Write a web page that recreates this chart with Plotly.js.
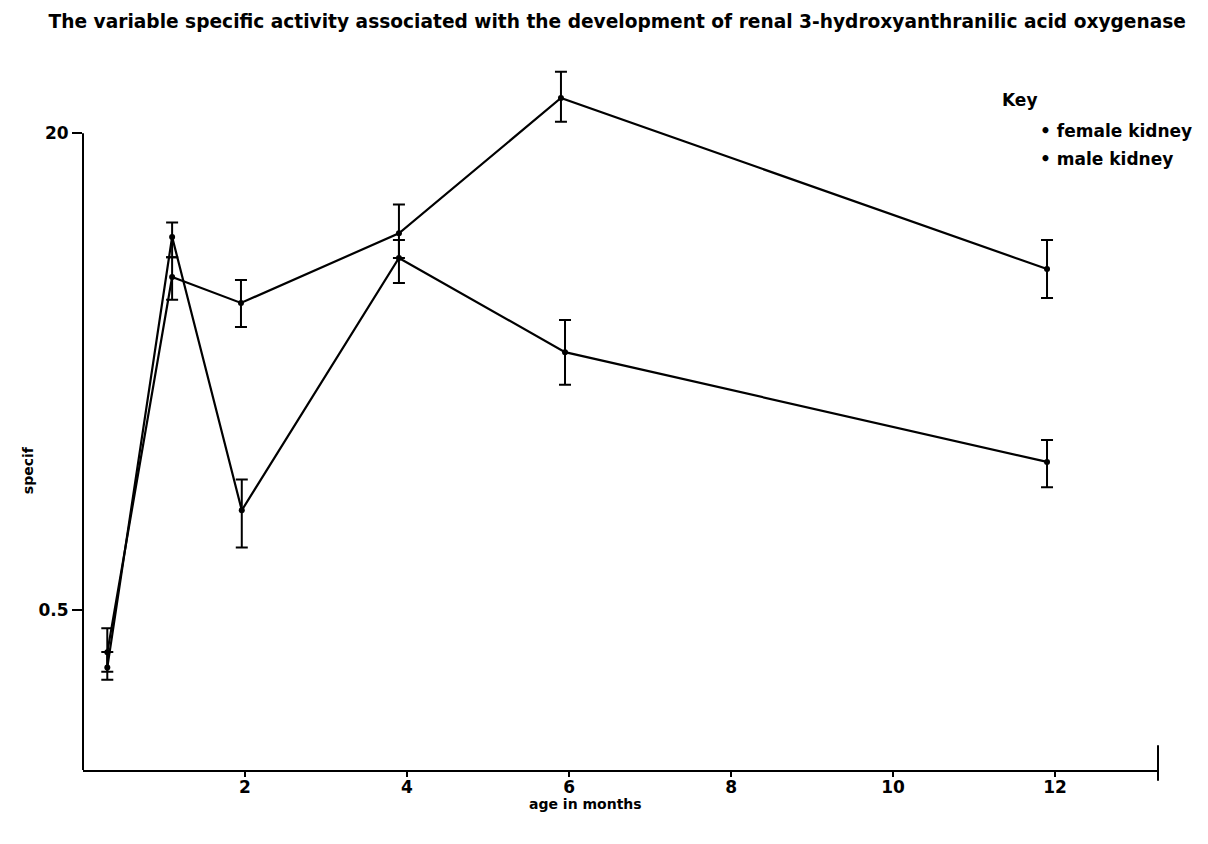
<!DOCTYPE html>
<html>
<head>
<meta charset="utf-8">
<script src="https://cdn.plot.ly/plotly-3.0.1.min.js"></script>
<style>html,body{margin:0;padding:0;background:#fff;}#chart{width:1208px;height:844px;}</style>
</head>
<body>
<div id="chart"></div>
<script>
// Data (age in months, specific activity, log axis)
var monthsFemale = [0.3, 1.1, 1.95, 3.9, 5.9, 11.9];
var female = [0.36, 6.56, 5.37, 9.2, 26.2, 6.98];
var femaleErrPlus = [0.074, 1.09, 1.04, 2.3, 5.9, 1.76];
var femaleErrMinus = [0.05, 1.06, 0.91, 1.6, 4.4, 1.40];

var monthsMale = [0.3, 1.1, 1.96, 3.9, 5.95, 11.9];
var male = [0.32, 8.95, 1.08, 7.6, 3.67, 1.57];
var maleErrPlus = [0.041, 1.05, 0.29, 1.14, 1.04, 0.29];
var maleErrMinus = [0.029, 1.30, 0.27, 1.33, 0.82, 0.28];

var xTickVals = [2, 4, 6, 8, 10, 12];
var xTickText = ['2', '4', '6', '8', '10', '12'];
var yTickVals = [0.5, 20];
var yTickText = ['0.5', '20'];

var FONT = 'DejaVu Sans, sans-serif';

function series(name, x, y, plus, minus) {
  return {
    type: 'scatter', mode: 'lines+markers', name: name,
    x: x, y: y,
    line: {color: '#000', width: 2.2},
    marker: {color: '#000', size: 6},
    error_y: {type: 'data', symmetric: false, array: plus, arrayminus: minus,
              color: '#000', thickness: 2, width: 6},
    showlegend: false
  };
}

var data = [
  series('female kidney', monthsFemale, female, femaleErrPlus, femaleErrMinus),
  series('male kidney', monthsMale, male, maleErrPlus, maleErrMinus)
];

var layout = {
  width: 1208, height: 844,
  margin: {l: 83, r: 50, t: 60, b: 74},
  paper_bgcolor: '#fff', plot_bgcolor: '#fff',
  font: {family: FONT, color: '#000', size: 16},
  title: {text: 'The variable specific activity associated with the development of renal 3-hydroxyanthranilic acid oxygenase',
          font: {family: FONT, size: 18.6, color: '#000', weight: 'bold'},
          x: 0.497, xanchor: 'center', xref: 'paper', y: 0.974, yanchor: 'middle', yref: 'container'},
  xaxis: {
    range: [0, 13.27], showgrid: false, zeroline: false,
    showline: true, linecolor: '#000', linewidth: 2,
    ticks: 'outside', ticklen: 5, tickwidth: 2, tickcolor: '#000',
    ticklabelstandoff: -4,
    tickvals: xTickVals, ticktext: xTickText,
    tickfont: {family: FONT, size: 17, color: '#000', weight: 'bold'}
  },
  yaxis: {
    type: 'log', range: [-0.839, 1.546], showgrid: false, zeroline: false,
    showline: false,
    ticks: 'outside', ticklen: 10, tickwidth: 2, tickcolor: '#000',
    tickvals: yTickVals, ticktext: yTickText,
    tickfont: {family: FONT, size: 17, color: '#000', weight: 'bold'}
  },
  shapes: [
    {type: 'line', xref: 'paper', yref: 'paper', x0: 0, x1: 0, y0: 0, y1: 0.897,
     line: {color: '#000', width: 2}},
    {type: 'line', xref: 'paper', yref: 'paper', x0: 1, x1: 1, y0: -0.015, y1: 0.035,
     line: {color: '#000', width: 2}}
  ],
  annotations: [
    {text: 'Key', xref: 'paper', yref: 'paper', x: 0.853, y: 0.944, xanchor: 'left', yanchor: 'middle',
     showarrow: false, font: {family: FONT, size: 17, color: '#000', weight: 'bold'}},
    {text: '• female kidney', xref: 'paper', yref: 'paper', x: 0.888, y: 0.900, xanchor: 'left', yanchor: 'middle',
     showarrow: false, font: {family: FONT, size: 17, color: '#000', weight: 'bold'}},
    {text: '• male kidney', xref: 'paper', yref: 'paper', x: 0.888, y: 0.861, xanchor: 'left', yanchor: 'middle',
     showarrow: false, font: {family: FONT, size: 17, color: '#000', weight: 'bold'}},
    {text: 'age in months', xref: 'paper', yref: 'paper', x: 0.467, y: -0.048, xanchor: 'center', yanchor: 'middle',
     showarrow: false, font: {family: FONT, size: 14, color: '#000', weight: 'bold'}},
    {text: 'specif', xref: 'paper', yref: 'paper', x: -0.051, y: 0.4225, xanchor: 'center', yanchor: 'middle',
     textangle: -90, showarrow: false, font: {family: FONT, size: 14, color: '#000', weight: 'bold'}}
  ]
};

Plotly.newPlot('chart', data, layout, {displayModeBar: false, staticPlot: true});
</script>
</body>
</html>
